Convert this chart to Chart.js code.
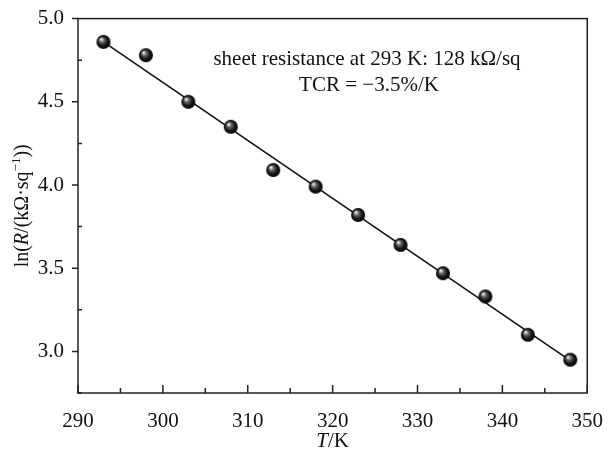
<!DOCTYPE html>
<html>
<head>
<meta charset="utf-8">
<script src="https://cdn.jsdelivr.net/npm/chart.js@4/dist/chart.umd.min.js"></script>
<style>
  html, body { margin: 0; padding: 0; background: #fff; }
  #wrap { width: 611px; height: 450px; }
</style>
</head>
<body>
<div id="wrap"><canvas id="chartTCR" width="611" height="450"></canvas></div>
<script>
// temperaturas medidas (K) y ln(R) correspondientes
const temperaturas = [293, 298, 303, 308, 313, 318, 323, 328, 333, 338, 343, 348];
const lnResistencia = [4.86, 4.78, 4.50, 4.35, 4.09, 3.99, 3.82, 3.64, 3.47, 3.33, 3.10, 2.95];

// extremos de la recta de ajuste
const ajusteT = [293, 348];
const ajusteLnR = [4.86, 2.945];

// marcas de los ejes
const ticksX = [290, 300, 310, 320, 330, 340, 350];
const ticksY = [3.0, 3.5, 4.0, 4.5, 5.0];
const menoresX = [295, 305, 315, 325, 335, 345];
const menoresY = [2.75, 3.25, 3.75, 4.25, 4.75];

const nota1 = 'sheet resistance at 293 K: 128 kΩ/sq';
const nota2 = 'TCR = −3.5%/K';

const fuente = '"Liberation Serif", "DejaVu Serif", serif';
const colorEje = '#222';

// esfera con brillo para los puntos
function crearEsfera(r) {
    const c = document.createElement('canvas');
    c.width = c.height = r * 2 + 2;
    const g = c.getContext('2d');
    const cx = r + 1, cy = r + 1;
    const grad = g.createRadialGradient(cx - r * 0.35, cy - r * 0.4, r * 0.05, cx, cy, r);
    grad.addColorStop(0, '#f8f8f8');
    grad.addColorStop(0.3, '#6a6a6a');
    grad.addColorStop(0.65, '#1a1a1a');
    grad.addColorStop(1, '#000');
    g.fillStyle = grad;
    g.beginPath();
    g.arc(cx, cy, r, 0, Math.PI * 2);
    g.fill();
    return c;
}

// marco, marcas, títulos y nota
const decoracion = {
    id: 'decoracion',
    afterDraw(chart) {
        const ctx = chart.ctx;
        const a = chart.chartArea;
        const sx = chart.scales.x, sy = chart.scales.y;
        ctx.save();
        ctx.strokeStyle = colorEje;
        ctx.lineWidth = 1.5;
        ctx.strokeRect(a.left, a.top, a.right - a.left, a.bottom - a.top);

        ctx.beginPath();
        ticksX.forEach(v => {
            const px = sx.getPixelForValue(v);
            ctx.moveTo(px, a.bottom); ctx.lineTo(px, a.bottom - 8);
        });
        menoresX.forEach(v => {
            const px = sx.getPixelForValue(v);
            ctx.moveTo(px, a.bottom); ctx.lineTo(px, a.bottom - 5);
        });
        ticksY.forEach(v => {
            const py = sy.getPixelForValue(v);
            ctx.moveTo(a.left, py); ctx.lineTo(a.left - 6, py);
        });
        menoresY.forEach(v => {
            const py = sy.getPixelForValue(v);
            ctx.moveTo(a.left, py); ctx.lineTo(a.left + 4, py);
        });
        ctx.stroke();

        ctx.fillStyle = '#111';
        ctx.textBaseline = 'alphabetic';

        // nota
        ctx.font = '21px ' + fuente;
        ctx.textAlign = 'center';
        ctx.fillText(nota1, 367, 65);
        ctx.fillText(nota2, 369, 91);

        // título eje X: T/K
        const partesX = [['italic ', 'T'], ['', '/K']];
        dibujarPartes(ctx, partesX, 21, (sx.left + sx.right) / 2, 447);

        // título eje Y rotado
        ctx.translate(28, (a.top + a.bottom) / 2);
        ctx.rotate(-Math.PI / 2);
        const partesY = [['', 'ln('], ['italic ', 'R'], ['', '/(kΩ·sq'], ['sup', '−1'], ['', '))']];
        dibujarPartes(ctx, partesY, 20, 0, 0);
        ctx.restore();
    }
};

function dibujarPartes(ctx, partes, tam, cx, base) {
    const medir = p => {
        ctx.font = (p[0] === 'sup' ? Math.round(tam * 0.65) + 'px ' : p[0] + tam + 'px ') + fuente;
        return ctx.measureText(p[1]).width;
    };
    const total = partes.reduce((s, p) => s + medir(p), 0);
    let x = cx - total / 2;
    ctx.textAlign = 'left';
    partes.forEach(p => {
        const w = medir(p);
        ctx.fillText(p[1], x, p[0] === 'sup' ? base - tam * 0.4 : base);
        x += w;
    });
}

const ctx = document.getElementById('chartTCR').getContext('2d');

new Chart(ctx, {
    type: 'scatter',
    data: {
        datasets: [
            {
                type: 'line',
                label: 'ajuste',
                data: ajusteT.map((t, i) => ({ x: t, y: ajusteLnR[i] })),
                borderColor: '#111',
                borderWidth: 1.6,
                pointRadius: 0,
                fill: false,
                order: 2
            },
            {
                label: 'ln R',
                data: temperaturas.map((t, i) => ({ x: t, y: lnResistencia[i] })),
                pointStyle: crearEsfera(7),
                pointRadius: 7,
                order: 1
            }
        ]
    },
    options: {
        responsive: false,
        animation: false,
        events: [],
        layout: { padding: { left: 0, right: 17, top: 17, bottom: 0 } },
        plugins: {
            legend: { display: false },
            tooltip: { enabled: false }
        },
        scales: {
            x: {
                type: 'linear',
                min: 290,
                max: 350,
                grid: { display: false },
                border: { display: false },
                afterBuildTicks: s => { s.ticks = ticksX.map(v => ({ value: v })); },
                afterFit: s => { s.height = 57; },
                ticks: {
                    padding: 8,
                    color: '#111',
                    font: { family: fuente, size: 21 },
                    callback: v => String(v)
                }
            },
            y: {
                min: 2.75,
                max: 5.0,
                grid: { display: false },
                border: { display: false },
                afterBuildTicks: s => { s.ticks = ticksY.map(v => ({ value: v })); },
                afterFit: s => { s.width = 78; },
                ticks: {
                    padding: 6,
                    color: '#111',
                    font: { family: fuente, size: 21 },
                    callback: v => v.toFixed(1)
                }
            }
        }
    },
    plugins: [decoracion]
});
</script>
</body>
</html>
